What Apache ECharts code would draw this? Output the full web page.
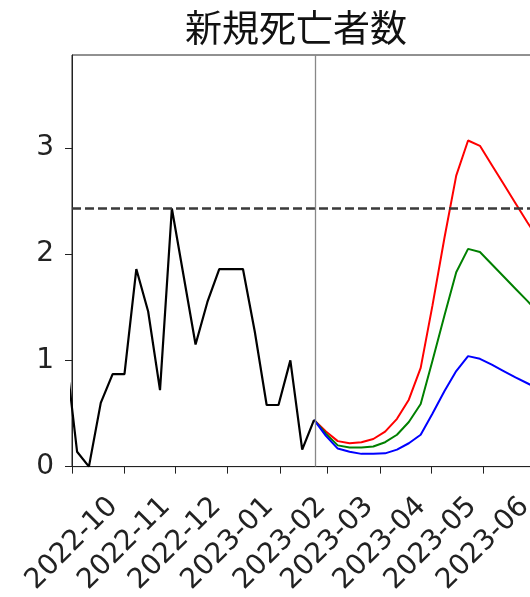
<!DOCTYPE html>
<html>
<head>
<meta charset="utf-8">
<script src="https://cdn.jsdelivr.net/npm/echarts@6/dist/echarts.min.js"></script>
<style>
html,body{margin:0;padding:0;overflow:hidden;background:#fff;}
#chart{width:540px;height:597px;}
</style>
</head>
<body>
<div id="chart"></div>
<script>
const titleText = '新規死亡者数';

const blackDates = ['2022-09-27','2022-10-04','2022-10-11','2022-10-18','2022-10-25','2022-11-01','2022-11-08','2022-11-15','2022-11-22','2022-11-29','2022-12-06','2022-12-13','2022-12-20','2022-12-27','2023-01-03','2023-01-10','2023-01-17','2023-01-24','2023-01-31','2023-02-07','2023-02-14','2023-02-21'];
const blackValues = [1.1,0.14,0.0,0.6,0.87,0.87,1.86,1.46,0.72,2.43,1.79,1.15,1.55,1.86,1.86,1.86,1.27,0.58,0.58,1.0,0.16,0.44];

const projDates = ['2023-02-21','2023-02-28','2023-03-07','2023-03-14','2023-03-21','2023-03-28','2023-04-04','2023-04-11','2023-04-18','2023-04-25','2023-05-02','2023-05-09','2023-05-16','2023-05-23','2023-05-30','2023-06-06','2023-06-13','2023-06-20','2023-06-27','2023-07-04'];
const redValues   = [0.44,0.33,0.24,0.22,0.23,0.26,0.33,0.45,0.63,0.93,1.52,2.15,2.74,3.07,3.02,2.84,2.66,2.48,2.30,2.13];
const greenValues = [0.44,0.31,0.20,0.18,0.18,0.19,0.23,0.30,0.42,0.59,1.00,1.42,1.83,2.05,2.02,1.905,1.79,1.675,1.56,1.44];
const blueValues  = [0.44,0.29,0.17,0.14,0.12,0.12,0.125,0.16,0.22,0.30,0.50,0.71,0.90,1.04,1.015,0.96,0.90,0.84,0.785,0.73];

const tickDates  = ['2022-10-01','2022-11-01','2022-12-01','2023-01-01','2023-02-01','2023-03-01','2023-04-01','2023-05-01','2023-06-01'];
const tickLabels = ['2022-10','2022-11','2022-12','2023-01','2023-02','2023-03','2023-04','2023-05','2023-06'];
const yTicks = [0,1,2,3];

const thresholdValue = 2.43;
const nowDate = '2023-02-22';
const xMinDate = '2022-10-01';
const xMaxDate = '2023-06-30';
const yMax = 3.875;

function ts(s){const p=s.split('-').map(Number);return Date.UTC(p[0],p[1]-1,p[2]);}
function pairs(d,v){return d.map((x,i)=>[ts(x),v[i]]);}
const tickTs = tickDates.map(ts);
const labelMap = {};
tickTs.forEach((t,i)=>{labelMap[t]=tickLabels[i];});

const chart = echarts.init(document.getElementById('chart'), null, {renderer:'canvas'});
const font = 'DejaVu Sans';
const lineW = 2;
chart.setOption({
  animation:false,
  backgroundColor:'#fff',
  graphic:[{type:'text',x:296,y:28,style:{text:titleText,fontFamily:'Noto Sans CJK JP',fontSize:37,fill:'#111',align:'center',verticalAlign:'middle'}}],
  grid:{left:72,right:7.6,top:55,bottom:127.7,show:true,borderColor:'#222',borderWidth:1,backgroundColor:'transparent'},
  xAxis:{
    type:'value',min:ts(xMinDate),max:ts(xMaxDate),
    axisLine:{show:true,lineStyle:{color:'#222',width:1}},
    axisTick:{show:true,length:7,customValues:tickTs,lineStyle:{color:'#222',width:1}},
    axisLabel:{customValues:tickTs,rotate:45,align:'center',verticalAlign:'middle',margin:77,
      fontFamily:font,fontSize:28,color:'#222',
      formatter:(v)=>labelMap[v]||''},
    splitLine:{show:false}
  },
  yAxis:{
    type:'value',min:0,max:yMax,
    axisLine:{show:true,lineStyle:{color:'#222',width:1}},
    axisTick:{show:true,length:7,customValues:yTicks,lineStyle:{color:'#222',width:1}},
    axisLabel:{customValues:yTicks,margin:18,fontFamily:font,fontSize:28,color:'#222'},
    splitLine:{show:false}
  },
  series:[
    {type:'line',name:'red',data:pairs(projDates,redValues),symbol:'none',clip:true,lineStyle:{color:'#ff0000',width:lineW},itemStyle:{color:'#ff0000'}},
    {type:'line',name:'green',data:pairs(projDates,greenValues),symbol:'none',clip:true,lineStyle:{color:'#008000',width:lineW},itemStyle:{color:'#008000'}},
    {type:'line',name:'blue',data:pairs(projDates,blueValues),symbol:'none',clip:true,lineStyle:{color:'#0000ff',width:lineW},itemStyle:{color:'#0000ff'}},
    {type:'line',name:'observed',data:pairs(blackDates,blackValues),symbol:'none',clip:true,z:3,
      lineStyle:{color:'#000',width:2.2},itemStyle:{color:'#000'},
      markLine:{silent:true,symbol:'none',label:{show:false},animation:false,
        data:[
          {yAxis:thresholdValue,lineStyle:{type:[9,4],color:'#3a3a3a',width:2.6}},
          {xAxis:ts(nowDate),lineStyle:{type:'solid',color:'#888',width:1.3}}
        ]}}
  ]
});
</script>
</body>
</html>
